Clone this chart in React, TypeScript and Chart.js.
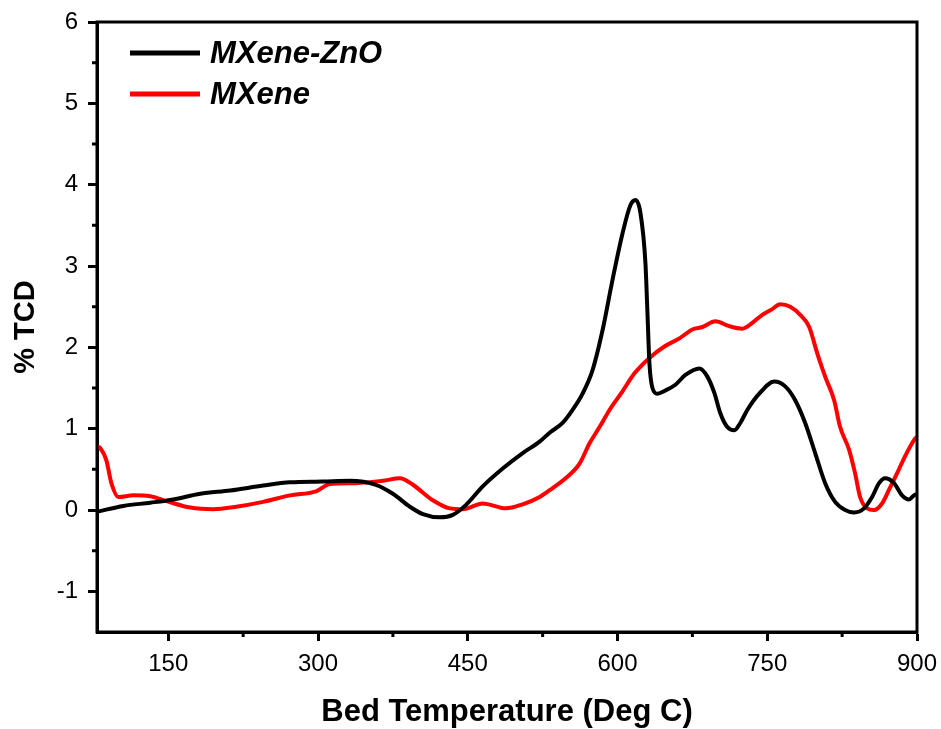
import React, { useEffect, useRef } from "react";
import { Chart, registerables } from "chart.js";

Chart.register(...registerables);

const seriesNames = ["MXene-ZnO", "MXene"];
const seriesColors = ["#000000", "#ff0000"];

const znoTemp = [79, 105, 132, 155, 182, 212, 245, 272, 305, 332, 358, 375, 392, 405, 422, 435, 448, 465, 485, 505, 522, 532, 545, 555, 565, 575, 585, 595, 605, 613, 618, 623, 628, 630, 632, 635, 640, 648, 658, 668, 682, 690, 697, 703, 710, 717, 723, 730, 742, 757, 768, 778, 788, 798, 808, 818, 828, 837, 847, 855, 862, 868, 877, 885, 892, 897, 900];
const znoTcd = [-0.02, 0.05, 0.09, 0.13, 0.2, 0.24, 0.3, 0.34, 0.35, 0.36, 0.31, 0.2, 0.04, -0.05, -0.09, -0.06, 0.06, 0.29, 0.51, 0.7, 0.84, 0.95, 1.07, 1.23, 1.43, 1.72, 2.21, 2.83, 3.4, 3.75, 3.81, 3.65, 3.03, 2.42, 1.8, 1.5, 1.43, 1.47, 1.54, 1.66, 1.74, 1.64, 1.44, 1.19, 1.02, 0.98, 1.07, 1.23, 1.43, 1.58, 1.52, 1.35, 1.07, 0.7, 0.33, 0.1, 0.0, -0.03, 0.02, 0.16, 0.33, 0.39, 0.33, 0.18, 0.13, 0.18, 0.2];

const mxTemp = [79, 82, 88, 93, 100, 115, 132, 148, 172, 195, 218, 245, 272, 298, 312, 338, 365, 382, 395, 415, 432, 445, 465, 488, 505, 522, 535, 548, 562, 572, 582, 592, 605, 617, 632, 647, 662, 675, 685, 698, 712, 725, 735, 745, 755, 763, 773, 783, 792, 800, 808, 817, 823, 832, 838, 843, 850, 857, 865, 872, 880, 888, 897, 900];
const mxTcd = [0.78, 0.76, 0.61, 0.33, 0.16, 0.18, 0.17, 0.11, 0.03, 0.01, 0.04, 0.1, 0.18, 0.23, 0.32, 0.33, 0.36, 0.39, 0.31, 0.12, 0.02, 0.01, 0.08, 0.02, 0.07, 0.16, 0.27, 0.39, 0.57, 0.82, 1.02, 1.23, 1.46, 1.68, 1.87, 2.01, 2.11, 2.22, 2.25, 2.32, 2.26, 2.23, 2.3, 2.4, 2.47, 2.53, 2.5, 2.4, 2.25, 1.93, 1.64, 1.35, 1.02, 0.74, 0.45, 0.16, 0.02, 0.0, 0.08, 0.25, 0.45, 0.66, 0.86, 0.9];

const xMajorTicks = [150, 300, 450, 600, 750, 900];
const xMinorTicks = [225, 375, 525, 675, 825];
const yMajorTicks = [-1, 0, 1, 2, 3, 4, 5, 6];
const yMinorTicks = [-0.5, 0.5, 1.5, 2.5, 3.5, 4.5, 5.5];

const FONT = "'Liberation Sans', Arial, sans-serif";

const framePlugin = {
  id: "frameAndMinor",
  afterDraw(chart: any) {
    const { ctx, chartArea } = chart;
    const xs = chart.scales.x;
    const ys = chart.scales.y;
    ctx.save();
    ctx.strokeStyle = "#000";
    ctx.lineWidth = 3;
    ctx.strokeRect(chartArea.left, chartArea.top, chartArea.right - chartArea.left, chartArea.bottom - chartArea.top);
    ctx.lineWidth = 3;
    ctx.beginPath();
    xMinorTicks.forEach((v) => {
      const px = xs.getPixelForValue(v);
      ctx.moveTo(px, chartArea.bottom);
      ctx.lineTo(px, chartArea.bottom + 5);
    });
    yMinorTicks.forEach((v) => {
      const py = ys.getPixelForValue(v);
      ctx.moveTo(chartArea.left, py);
      ctx.lineTo(chartArea.left - 5, py);
    });
    ctx.stroke();
    // legend
    chart.data.datasets.forEach((ds: any, i: number) => {
      const y = 53 + i * 41;
      ctx.strokeStyle = ds.borderColor;
      ctx.lineWidth = 5;
      ctx.beginPath();
      ctx.moveTo(130, y);
      ctx.lineTo(200, y);
      ctx.stroke();
      ctx.fillStyle = "#000";
      ctx.font = `italic bold 31px ${FONT}`;
      ctx.textBaseline = "middle";
      ctx.textAlign = "left";
      ctx.fillText(ds.label, 210, y + 1);
    });
    ctx.restore();
  },
};

export default function App() {
  const ref = useRef<HTMLCanvasElement>(null);
  useEffect(() => {
    document.body.style.margin = "0";
    const canvas = ref.current!;
    const series = [
      znoTemp.map((t, i) => ({ x: t, y: znoTcd[i] })),
      mxTemp.map((t, i) => ({ x: t, y: mxTcd[i] })),
    ];
    const chart = new Chart(canvas, {
      type: "line",
      data: {
        datasets: series.map((d, i) => ({
          label: seriesNames[i],
          data: d,
          borderColor: seriesColors[i],
          backgroundColor: seriesColors[i],
          borderWidth: 4,
          pointRadius: 0,
          cubicInterpolationMode: "monotone" as const,
          fill: false,
        })),
      },
      options: {
        animation: false,
        responsive: false,
        maintainAspectRatio: false,
        layout: { padding: { top: 22, right: 24, left: 0, bottom: 0 } },
        plugins: { legend: { display: false }, tooltip: { enabled: false } },
        scales: {
          x: {
            type: "linear",
            min: 78.6,
            max: 900,
            afterBuildTicks: (s: any) => {
              s.ticks = xMajorTicks.map((v) => ({ value: v }));
            },
            afterFit: (s: any) => {
              s.height = 97;
              s.paddingLeft = 0;
              s.paddingRight = 0;
            },
            grid: { drawOnChartArea: false, drawTicks: true, tickLength: 9, tickWidth: 3, tickColor: "#000" },
            border: { display: true, width: 3, color: "#000" },
            ticks: { color: "#000", font: { family: FONT, size: 24 }, padding: 9, maxRotation: 0 },
            title: {
              display: true,
              text: "Bed Temperature (Deg C)",
              color: "#000",
              font: { family: FONT, size: 31, weight: "bold" },
              padding: { top: 10, bottom: -2 },
            },
          },
          y: {
            type: "linear",
            min: -1.5,
            max: 6,
            afterBuildTicks: (s: any) => {
              s.ticks = yMajorTicks.map((v) => ({ value: v }));
            },
            afterFit: (s: any) => {
              s.width = 97;
              s.paddingTop = 0;
              s.paddingBottom = 0;
            },
            grid: { drawOnChartArea: false, drawTicks: true, tickLength: 9, tickWidth: 3, tickColor: "#000" },
            border: { display: true, width: 3, color: "#000" },
            ticks: { color: "#000", font: { family: FONT, size: 24 }, padding: 10 },
            title: {
              display: true,
              text: "% TCD",
              color: "#000",
              font: { family: FONT, size: 29, weight: "bold" },
              padding: { top: 9, bottom: 6 },
            },
          },
        },
      },
      plugins: [framePlugin],
    });
    return () => chart.destroy();
  }, []);
  return <canvas ref={ref} width={941} height={729} style={{ display: "block" }} />;
}
